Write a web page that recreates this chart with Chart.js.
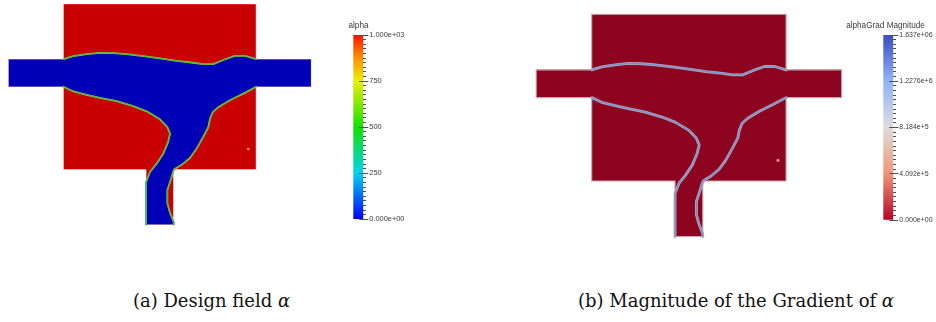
<!DOCTYPE html>
<html>
<head>
<meta charset="utf-8">
<script src="https://cdn.jsdelivr.net/npm/chart.js@4.4.1/dist/chart.umd.min.js"></script>
<style>
  html, body { margin: 0; padding: 0; background: #fff; }
  #page { position: relative; width: 936px; height: 322px; overflow: hidden; }
  canvas { position: absolute; }
  .cbtitle { position: absolute; font: 8.2px "Liberation Sans", Arial, sans-serif; color: #3a3a3a;
             white-space: nowrap; transform: translateX(-50%); line-height: 1; }
  .caption { position: absolute; font: 18px "DejaVu Serif", serif; color: #111;
             white-space: nowrap; transform: translateX(-50%); line-height: 1; }
</style>
</head>
<body>
<div id="page">
  <canvas id="fieldA" width="312" height="229" style="left:4px;top:0px"></canvas>
  <canvas id="barA" width="70" height="205" style="left:345px;top:25px"></canvas>
  <div class="cbtitle" style="left:358.5px;top:21.5px">alpha</div>

  <canvas id="fieldB" width="314" height="231" style="left:532px;top:10px"></canvas>
  <canvas id="barB" width="61" height="205" style="left:875px;top:25px"></canvas>
  <div class="cbtitle" style="left:885.5px;top:21.5px">alphaGrad Magnitude</div>

  <div class="caption" style="left:211.5px;top:292px">(a) Design field <i>α</i></div>
  <div class="caption" style="left:736px;top:292px">(b) Magnitude of the Gradient of <i>α</i></div>
</div>
<script>
// Geometry in domain units: 7 x 6 design square with unit-width channels
const domainOutline = [[-2,3],[-2,4],[0,4],[0,6],[7,6],[7,4],[9,4],[9,3],[7,3],[7,0],[4,0],[4,-2],[3,-2],[3,0],[0,0],[0,3]];

// Solid/fluid interface, upper wall of the main channel (left to right)
const upperInterface = [[0,4.0],[0.36,4.11],[0.84,4.18],[1.32,4.23],[1.81,4.22],[2.29,4.18],[2.90,4.11],
  [3.50,4.03],[4.11,3.94],[4.71,3.87],[5.07,3.82],[5.44,3.82],[5.80,3.97],[6.22,4.12],[6.59,4.12],[7,4.0]];

// Lower-left wall, from the inlet down the outlet stem
const leftInterface = [[0,3.0],[0.36,2.83],[0.84,2.71],[1.32,2.60],[1.93,2.48],[2.53,2.30],[3.02,2.11],
  [3.50,1.82],[3.77,1.54],[3.87,1.30],[3.80,1.00],[3.62,0.57],[3.38,0.21],[3.14,-0.09],[3.0,-0.45],[3.0,-2.0]];

// Lower-right wall, from the right outlet down the stem
const rightInterface = [[7,3.0],[6.53,2.75],[6.04,2.51],[5.62,2.26],[5.42,2.08],[5.32,1.84],[5.26,1.54],
  [5.07,1.18],[4.83,0.75],[4.59,0.42],[4.29,0.17],[4.05,0.03],[4.0,-0.03],[3.87,-0.44],[3.77,-0.74],
  [3.77,-1.22],[3.87,-1.58],[4.0,-1.9],[4.0,-2.0]];

// Single isolated solid cell inside the square
const isolatedCell = [[6.71,0.74]];

// Colour bar scales
const alphaRange = [0, 1000];
const alphaTicks = [0, 250, 500, 750, 1000];
const alphaTickLabels = ['0.000e+00', '250', '500', '750', '1.000e+03'];
const gradRange = [0, 1637000];
const gradTicks = [0, 409250, 818500, 1227750, 1637000];
const gradTickLabels = ['0.000e+00', '4.092e+5', '8.184e+5', '1.2276e+6', '1.637e+06'];

const pts = arr => arr.map(([x, y]) => ({ x, y }));

function fieldChart(id, padding, style) {
  const fluid = [[-2,3],[-2,4], ...upperInterface, [9,4],[9,3], ...rightInterface, ...leftInterface.slice().reverse()];
  const datasets = [];
  datasets.push({ data: pts(isolatedCell), showLine: false, pointRadius: style.dotRadius,
    pointBackgroundColor: style.dot, pointBorderWidth: 0, order: 1 });
  style.interface.forEach((s, k) => {
    [upperInterface, leftInterface, rightInterface].forEach(path => {
      datasets.push({ data: pts(path), borderColor: s.color, borderWidth: s.width, fill: false,
        pointRadius: 0, borderJoinStyle: 'round', borderCapStyle: 'round', order: 3 - k * 0.5 });
    });
  });
  datasets.push({ data: pts([...domainOutline, domainOutline[0]]), borderColor: style.edge,
    borderWidth: style.edgeWidth, fill: false, pointRadius: 0, order: 4 });
  datasets.push({ data: pts(fluid), borderColor: 'rgba(0,0,0,0)', borderWidth: 0,
    backgroundColor: style.fluid, fill: 'shape', pointRadius: 0, order: 5 });
  datasets.push({ data: pts(domainOutline), borderColor: 'rgba(0,0,0,0)', borderWidth: 0,
    backgroundColor: style.solid, fill: 'shape', pointRadius: 0, order: 6 });

  return new Chart(document.getElementById(id), {
    type: 'line',
    data: { datasets },
    options: {
      responsive: false, animation: false, events: [], devicePixelRatio: 1,
      layout: { padding },
      clip: false,
      elements: { line: { tension: 0 } },
      plugins: { legend: { display: false }, tooltip: { enabled: false } },
      scales: {
        x: { type: 'linear', min: -2, max: 9, display: false },
        y: { type: 'linear', min: -2, max: 6, display: false }
      }
    }
  });
}

fieldChart('fieldA', { left: 4.4, top: 3.9, right: 4.6, bottom: 4.3 }, {
  solid: 'rgb(200,0,0)', fluid: 'rgb(0,0,182)',
  edge: 'rgba(255,255,255,0.35)', edgeWidth: 1,
  interface: [{ color: 'rgb(150,200,40)', width: 1.8 }, { color: 'rgb(50,180,80)', width: 0.9 }],
  dot: 'rgb(235,150,30)', dotRadius: 1.3
});

fieldChart('fieldB', { left: 4.2, top: 4.3, right: 4.4, bottom: 4.5 }, {
  solid: 'rgb(140,4,32)', fluid: 'rgb(140,4,32)',
  edge: 'rgb(205,165,175)', edgeWidth: 1.1,
  interface: [{ color: 'rgb(185,168,180)', width: 2.8 }, { color: 'rgb(115,145,210)', width: 1.3 }],
  dot: 'rgb(225,140,120)', dotRadius: 1.6
});

function colorBar(id, range, ticks, labels, stops, padding, axisWidth, fontSize) {
  const minor = (ticks[1] - ticks[0]) / 10;
  const isMajor = v => ticks.some(t => Math.abs(t - v) < minor * 1e-3);
  return new Chart(document.getElementById(id), {
    type: 'bar',
    data: {
      labels: [''],
      datasets: [{
        data: [range[1]],
        borderWidth: 0,
        barPercentage: 1, categoryPercentage: 1,
        backgroundColor: c => {
          const a = c.chart.chartArea;
          if (!a) return 'rgba(0,0,0,0)';
          const g = c.chart.ctx.createLinearGradient(0, a.bottom, 0, a.top);
          stops.forEach(([t, col]) => g.addColorStop(t, col));
          return g;
        }
      }]
    },
    options: {
      responsive: false, animation: false, events: [], devicePixelRatio: 1,
      layout: { padding },
      plugins: { legend: { display: false }, tooltip: { enabled: false } },
      scales: {
        x: { display: false },
        y: {
          position: 'right', min: range[0], max: range[1],
          afterFit: s => { s.width = axisWidth; },
          border: { display: false, dash: [0, 6, 4, 60] },
          grid: {
            z: 1,
            drawOnChartArea: true,
            color: c => (c.tick && isMajor(c.tick.value)) ? '#505050' : 'rgba(0,0,0,0)',
            lineWidth: 1,
            tickLength: 5,
            tickWidth: 1,
            tickColor: '#505050',
            tickBorderDash: c => (c.tick && isMajor(c.tick.value)) ? [] : [3, 20]
          },
          ticks: {
            stepSize: minor, autoSkip: false, padding: 1,
            color: '#3a3a3a',
            font: { family: '"Liberation Sans", Arial, sans-serif', size: fontSize },
            callback: v => {
              const i = ticks.findIndex(t => Math.abs(t - v) < minor * 1e-3);
              return i >= 0 ? labels[i] : '';
            }
          }
        }
      }
    }
  });
}

colorBar('barA', alphaRange, alphaTicks, alphaTickLabels,
  [[0, 'rgb(0,0,255)'], [0.25, 'rgb(0,210,240)'], [0.5, 'rgb(20,225,0)'],
   [0.75, 'rgb(235,240,0)'], [0.88, 'rgb(255,140,0)'], [1, 'rgb(255,15,0)']],
  { left: 8.3, top: 10, right: 6.7, bottom: 10.7 }, 45, 7.4);

colorBar('barB', gradRange, gradTicks, gradTickLabels,
  [[0, 'rgb(180,4,38)'], [0.25, 'rgb(240,150,120)'], [0.5, 'rgb(221,221,221)'],
   [0.75, 'rgb(145,178,250)'], [1, 'rgb(59,76,192)']],
  { left: 8.3, top: 10, right: 2.7, bottom: 10 }, 40, 7.0);
</script>
</body>
</html>
